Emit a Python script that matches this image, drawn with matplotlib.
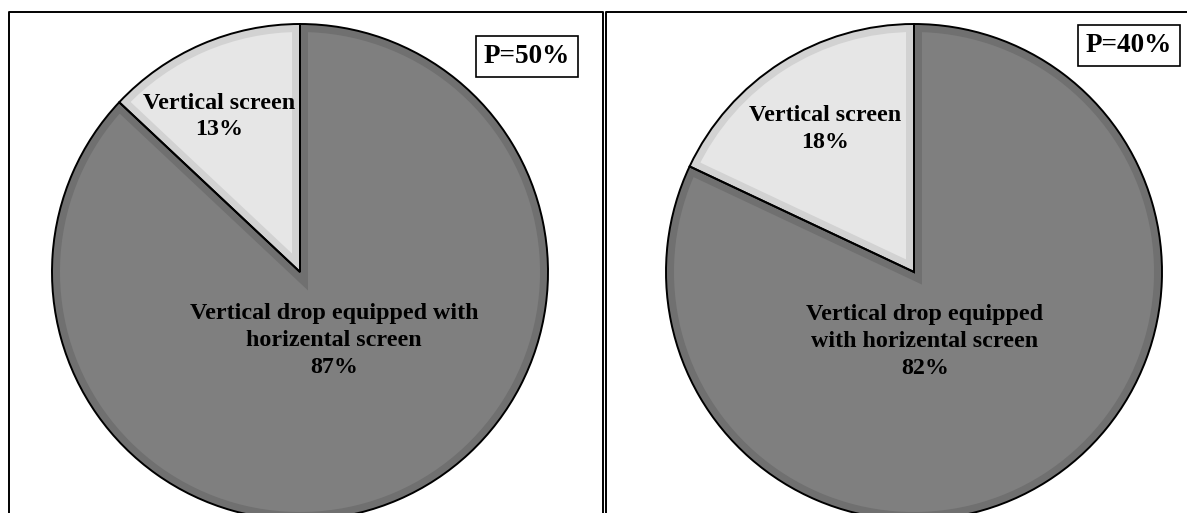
import matplotlib.pyplot as plt

# data
panels = ["P=50%", "P=40%"]
small_label = "Vertical screen"
big_labels = ["Vertical drop equipped with\nhorizental screen",
              "Vertical drop equipped\nwith horizental screen"]
small_pct = [13, 18]
big_pct = [87, 82]

W, H = 1187, 513
def py(y):
    return H - y

# layout (pixels in the image)
centers = [(300, 272), (914, 272)]
radius = 248
small_pos = [(219.5, 116.5), (825, 129)]
big_pos = [(334, 340.5), (925, 341.5)]
box_pos = [(527, 56.5), (1129, 45.5)]

fill_cols = ["#e6e6e6", "#7f7f7f"]
rim_cols = ["#d2d2d2", "#707070"]
font = dict(family=["Liberation Serif", "DejaVu Serif"], fontweight="bold", color="black")

fig = plt.figure(figsize=(W / 100, H / 100), dpi=100)
ax = fig.add_axes([0, 0, 1, 1])

for i in range(2):
    vals = [small_pct[i], big_pct[i]]
    cx, cy = centers[i]
    wedges, _ = ax.pie(vals, colors=fill_cols, startangle=90, counterclock=True,
                       center=(cx, py(cy)), radius=radius,
                       wedgeprops=dict(edgecolor="none", linewidth=0))
    # bevel rim inside each slice (thick edge clipped to the slice itself)
    for w, rc in zip(wedges, rim_cols):
        w.set_edgecolor(rc)
        w.set_linewidth(11.5)
        w.set_clip_on(True)
        w.set_clip_path(w)
    ax.pie(vals, startangle=90, counterclock=True, center=(cx, py(cy)), radius=radius,
           wedgeprops=dict(fill=False, edgecolor="black", linewidth=1.4))

    ax.text(small_pos[i][0], py(small_pos[i][1]), small_label + "\n%d%%" % small_pct[i],
            ha="center", va="center", fontsize=17.3, linespacing=1.35, **font)
    ax.text(big_pos[i][0], py(big_pos[i][1]), big_labels[i] + "\n%d%%" % big_pct[i],
            ha="center", va="center", fontsize=17.3, linespacing=1.35, **font)
    ax.text(box_pos[i][0], py(box_pos[i][1]), panels[i], ha="center", va="center",
            fontsize=19.5, **font,
            bbox=dict(boxstyle="square,pad=0.28", facecolor="white", edgecolor="black", linewidth=1.2))

# panel frames
ax.plot([9, 9, 602.5, 602.5], [py(520), py(12), py(12), py(520)], color="black", lw=1.4)
ax.plot([605.5, 605.5, 1195], [py(520), py(12), py(12)], color="black", lw=1.4)

ax.set_aspect("auto")
ax.set_xlim(0, W)
ax.set_ylim(0, H)
ax.axis("off")

fig.savefig("out.png", dpi=100, facecolor="white")
